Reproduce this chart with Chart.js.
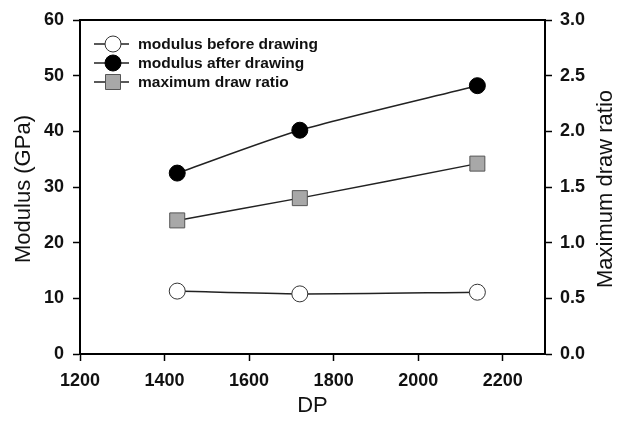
<!DOCTYPE html>
<html>
<head>
<meta charset="utf-8">
<script src="https://cdn.jsdelivr.net/npm/chart.js@4"></script>
<style>
  html, body { margin: 0; padding: 0; background: #fff; }
  #wrap { width: 617px; height: 423px; }
</style>
</head>
<body>
<div id="wrap"><canvas id="modChart" width="617" height="423"></canvas></div>
<script>
// data
const dp = [1430, 1720, 2140];
const modulusBefore = [11.3, 10.8, 11.1];
const modulusAfter = [32.5, 40.2, 48.2];
const drawRatio = [1.2, 1.4, 1.71];

const xTicks = [1200, 1400, 1600, 1800, 2000, 2200];
const leftTicks = [0, 10, 20, 30, 40, 50, 60];
const rightTicks = [0, 0.5, 1.0, 1.5, 2.0, 2.5, 3.0];

const seriesLabels = ['modulus before drawing', 'modulus after drawing', 'maximum draw ratio'];
const leftTitle = 'Modulus (GPa)';
const rightTitle = 'Maximum draw ratio';

const pts = (ys) => dp.map((x, i) => ({ x: x, y: ys[i] }));

const tickFont = { family: 'Liberation Sans, Arial', size: 18, weight: 'bold' };
const titleFont = { family: 'Liberation Sans, Arial', size: 22 };

// top frame line, both y titles (read bottom-to-top) and the legend
const framePlugin = {
    id: 'frame',
    afterDraw(chart) {
        const ctx = chart.ctx;
        const a = chart.chartArea;
        ctx.save();
        ctx.strokeStyle = '#000';
        ctx.lineWidth = 2;
        ctx.beginPath();
        ctx.moveTo(a.left - 1, a.top);
        ctx.lineTo(a.right + 1, a.top);
        ctx.stroke();

        // axis titles
        ctx.fillStyle = '#111';
        ctx.font = '22px Liberation Sans, Arial';
        ctx.textAlign = 'center';
        ctx.textBaseline = 'middle';
        [[24, leftTitle], [606, rightTitle]].forEach(([x, t]) => {
            ctx.save();
            ctx.translate(x, (a.top + a.bottom) / 2 + 2);
            ctx.rotate(-Math.PI / 2);
            ctx.fillText(t, 0, 0);
            ctx.restore();
        });

        chart.data.datasets.forEach((ds, i) => {
            const y = 44 + i * 19;
            const cx = 113;
            ctx.strokeStyle = '#222';
            ctx.lineWidth = 1.5;
            ctx.beginPath();
            ctx.moveTo(94, y);
            ctx.lineTo(129, y);
            ctx.stroke();
            ctx.fillStyle = ds.pointBackgroundColor;
            ctx.strokeStyle = ds.pointBorderColor;
            ctx.lineWidth = 1;
            ctx.beginPath();
            if (ds.pointStyle === 'rect') {
                ctx.rect(cx - 7.5, y - 7.5, 15, 15);
            } else {
                ctx.arc(cx, y, 8, 0, Math.PI * 2);
            }
            ctx.fill();
            ctx.stroke();
            ctx.fillStyle = '#111';
            ctx.font = 'bold 15.5px Liberation Sans, Arial';
            ctx.textBaseline = 'middle';
            ctx.textAlign = 'left';
            ctx.fillText(ds.label, 138, y + 1);
        });
        ctx.restore();
    }
};

new Chart(
document.getElementById('modChart'),
{
    type: 'line',
    data: {
        datasets: [
            {
                label: seriesLabels[0],
                data: pts(modulusBefore),
                yAxisID: 'y',
                borderColor: '#222',
                borderWidth: 1.5,
                pointRadius: 8,
                pointHoverRadius: 8,
                pointBackgroundColor: '#fff',
                pointBorderColor: '#333',
                pointBorderWidth: 1,
                tension: 0.25
            },
            {
                label: seriesLabels[1],
                data: pts(modulusAfter),
                yAxisID: 'y',
                borderColor: '#222',
                borderWidth: 1.5,
                pointRadius: 8,
                pointHoverRadius: 8,
                pointBackgroundColor: '#000',
                pointBorderColor: '#000',
                pointBorderWidth: 1,
                tension: 0.25
            },
            {
                label: seriesLabels[2],
                data: pts(drawRatio),
                yAxisID: 'y2',
                borderColor: '#222',
                borderWidth: 1.5,
                pointStyle: 'rect',
                pointRadius: 10.6,
                pointHoverRadius: 10.6,
                pointBackgroundColor: '#a8a8a8',
                pointBorderColor: '#555',
                pointBorderWidth: 1,
                tension: 0.25
            }
        ]
    },
    options: {
        responsive: false,
        animation: false,
        layout: { padding: { top: 20, left: 0, right: 0, bottom: 0 } },
        plugins: {
            legend: { display: false },
            tooltip: { enabled: false }
        },
        scales: {
            x: {
                type: 'linear',
                min: 1200,
                max: 2300,
                afterBuildTicks: (s) => { s.ticks = xTicks.map(v => ({ value: v })); },
                afterFit: (s) => { s.height = 69; },
                border: { color: '#000', width: 2 },
                grid: { drawOnChartArea: false, tickLength: 7, tickColor: '#000', tickWidth: 1.5 },
                ticks: { color: '#111', font: tickFont, padding: 9, maxRotation: 0, callback: (v) => String(v) },
                title: { display: true, text: 'DP', color: '#111', font: titleFont, padding: { top: 2 } }
            },
            y: {
                position: 'left',
                min: 0,
                max: 60,
                afterBuildTicks: (s) => { s.ticks = leftTicks.map(v => ({ value: v })); },
                afterFit: (s) => { s.width = 80; },
                border: { color: '#000', width: 2 },
                grid: { drawOnChartArea: false, tickLength: 7, tickColor: '#000', tickWidth: 1.5 },
                ticks: { color: '#111', font: tickFont, padding: 9 }
            },
            y2: {
                position: 'right',
                min: 0,
                max: 3,
                afterBuildTicks: (s) => { s.ticks = rightTicks.map(v => ({ value: v })); },
                afterFit: (s) => { s.width = 72; },
                border: { color: '#000', width: 2 },
                grid: { drawOnChartArea: false, tickLength: 7, tickColor: '#000', tickWidth: 1.5 },
                ticks: { color: '#111', font: tickFont, padding: 8, callback: (v) => Number(v).toFixed(1) }
            }
        }
    },
    plugins: [framePlugin]
});
</script>
</body>
</html>
